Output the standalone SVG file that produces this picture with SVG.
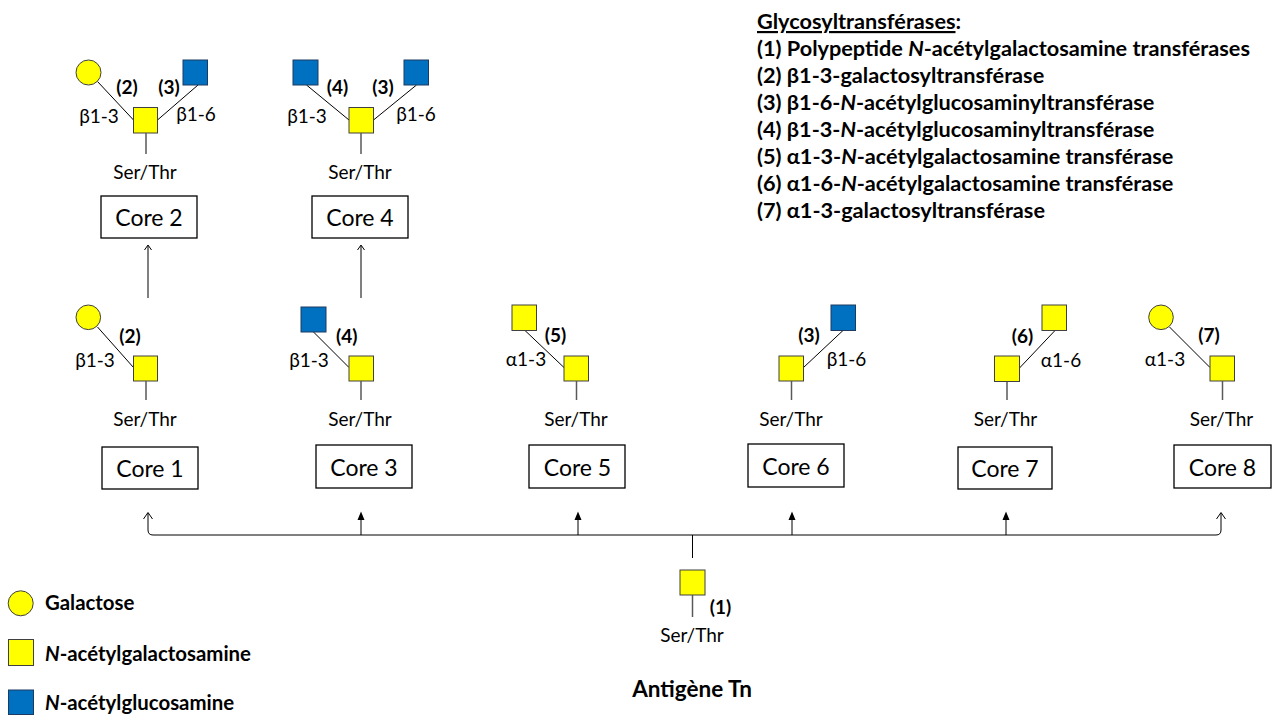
<svg xmlns="http://www.w3.org/2000/svg" width="1273" height="718" viewBox="0 0 1273 718">
<style>
text{font-family:Lato,"Liberation Sans",sans-serif;fill:#000}
.ser{font-size:19px;text-anchor:middle}
.lk{font-size:19px;text-anchor:middle}
.en{font-size:19px;font-weight:bold;text-anchor:middle}
.core{font-size:23px;text-anchor:middle}
.lst{font-size:21.7px;font-weight:bold}
.leg{font-size:20.4px;font-weight:bold}
.gal{fill:#FFFF00;stroke:#404040;stroke-width:1}
.glc{fill:#0070C0;stroke:#1F3A60;stroke-width:1}
.bx{fill:#fff;stroke:#000;stroke-width:1.3}
.bond{stroke:#000;stroke-width:1}
.stem{stroke:#595959;stroke-width:1.5}
.conn{fill:none;stroke:#000;stroke-width:1}
.head{fill:#000;stroke:none}
</style>

<!-- Core 2 -->
<g id="core2">
<line class="bond" x1="97.5" y1="81.5" x2="133.5" y2="120"/>
<line class="bond" x1="198" y1="85" x2="157.5" y2="120"/>
<circle class="gal" cx="88.5" cy="72.5" r="12.5"/>
<rect class="glc" x="183" y="60" width="24.5" height="25"/>
<rect class="gal" x="133.5" y="107.5" width="24" height="25.5"/>
<line class="stem" x1="146" y1="133" x2="146" y2="154"/>
<text class="en" x="127" y="94">(2)</text>
<text class="en" x="169" y="94">(3)</text>
<text class="lk" x="99" y="123">β1-3</text>
<text class="lk" x="196" y="121">β1-6</text>
<text class="ser" x="145" y="179">Ser/Thr</text>
<rect class="bx" x="101" y="196" width="96" height="42"/>
<text class="core" x="149" y="226">Core 2</text>
</g>

<!-- Core 4 -->
<g id="core4">
<line class="bond" x1="306.5" y1="85" x2="349" y2="120"/>
<line class="bond" x1="416.5" y1="85" x2="373.5" y2="120"/>
<rect class="glc" x="293" y="60" width="25" height="25"/>
<rect class="glc" x="404" y="60" width="24.5" height="25"/>
<rect class="gal" x="349" y="107.5" width="24.5" height="25.5"/>
<line class="stem" x1="361" y1="133" x2="361" y2="154"/>
<text class="en" x="337.5" y="94">(4)</text>
<text class="en" x="383" y="94">(3)</text>
<text class="lk" x="307" y="122.5">β1-3</text>
<text class="lk" x="416" y="121">β1-6</text>
<text class="ser" x="360" y="179">Ser/Thr</text>
<rect class="bx" x="312" y="196" width="96" height="42"/>
<text class="core" x="360" y="226">Core 4</text>
</g>

<!-- Core 1 -->
<g id="core1">
<line class="bond" x1="97.5" y1="327" x2="133.5" y2="367.5"/>
<circle class="gal" cx="88.3" cy="317.3" r="12.3"/>
<rect class="gal" x="133.5" y="356" width="24" height="25"/>
<line class="stem" x1="146" y1="381" x2="146" y2="400"/>
<text class="en" x="130" y="343">(2)</text>
<text class="lk" x="95" y="366.5">β1-3</text>
<text class="ser" x="145" y="426">Ser/Thr</text>
<rect class="bx" x="102" y="447" width="96" height="42"/>
<text class="core" x="150" y="477">Core 1</text>
</g>

<!-- Core 3 -->
<g id="core3">
<line class="bond" x1="313.5" y1="332" x2="349" y2="367.5"/>
<rect class="glc" x="301" y="307" width="25" height="25"/>
<rect class="gal" x="349" y="356" width="24.5" height="25"/>
<line class="stem" x1="361" y1="381" x2="361" y2="400"/>
<text class="en" x="346.7" y="343">(4)</text>
<text class="lk" x="309" y="366.5">β1-3</text>
<text class="ser" x="360" y="426">Ser/Thr</text>
<rect class="bx" x="316" y="445" width="96" height="43"/>
<text class="core" x="364" y="475.5">Core 3</text>
</g>

<!-- Core 5 -->
<g id="core5">
<line class="bond" x1="525" y1="330.5" x2="564" y2="367.5"/>
<rect class="gal" x="512" y="305" width="24.5" height="25.5"/>
<rect class="gal" x="564" y="356" width="24.5" height="25"/>
<line class="stem" x1="576.5" y1="381" x2="576.5" y2="400"/>
<text class="en" x="555.5" y="342">(5)</text>
<text class="lk" x="526" y="366">α1-3</text>
<text class="ser" x="576" y="426">Ser/Thr</text>
<rect class="bx" x="529" y="445" width="96" height="43"/>
<text class="core" x="577.5" y="475.5">Core 5</text>
</g>

<!-- Core 6 -->
<g id="core6">
<line class="bond" x1="843" y1="330.5" x2="803.5" y2="367.5"/>
<rect class="glc" x="831" y="305" width="24.5" height="25.5"/>
<rect class="gal" x="779" y="356" width="24.5" height="25"/>
<line class="stem" x1="791.5" y1="381" x2="791.5" y2="400"/>
<text class="en" x="809" y="342">(3)</text>
<text class="lk" x="846.5" y="365.5">β1-6</text>
<text class="ser" x="791" y="426">Ser/Thr</text>
<rect class="bx" x="748" y="444" width="96" height="43"/>
<text class="core" x="796" y="474.5">Core 6</text>
</g>

<!-- Core 7 -->
<g id="core7">
<line class="bond" x1="1055" y1="330.5" x2="1019.5" y2="368"/>
<rect class="gal" x="1042" y="305" width="24.5" height="25.5"/>
<rect class="gal" x="994.5" y="356" width="25" height="25.5"/>
<line class="stem" x1="1007" y1="382" x2="1007" y2="400"/>
<text class="en" x="1022.5" y="343">(6)</text>
<text class="lk" x="1061" y="367">α1-6</text>
<text class="ser" x="1005.5" y="426">Ser/Thr</text>
<rect class="bx" x="958" y="447" width="94" height="42"/>
<text class="core" x="1005" y="477">Core 7</text>
</g>

<!-- Core 8 -->
<g id="core8">
<line class="bond" x1="1169.5" y1="327" x2="1210" y2="367.5"/>
<circle class="gal" cx="1161" cy="317.3" r="12.3"/>
<rect class="gal" x="1210" y="356" width="24.5" height="25"/>
<line class="stem" x1="1222.5" y1="381" x2="1222.5" y2="400"/>
<text class="en" x="1209" y="342">(7)</text>
<text class="lk" x="1165" y="366">α1-3</text>
<text class="ser" x="1221.5" y="426">Ser/Thr</text>
<rect class="bx" x="1174" y="445" width="97" height="43"/>
<text class="core" x="1222.5" y="475.5">Core 8</text>
</g>

<!-- Antigen Tn -->
<g id="tn">
<rect class="gal" x="680" y="570" width="25" height="25"/>
<line class="stem" x1="692.5" y1="595" x2="692.5" y2="617"/>
<text class="en" x="720.5" y="614">(1)</text>
<text class="ser" x="692" y="642">Ser/Thr</text>
<text x="692" y="697" style="font-size:22.5px;font-weight:bold;text-anchor:middle">Antigène Tn</text>
</g>

<!-- Connectors -->
<g id="connectors">
<line class="conn" x1="148" y1="298" x2="148" y2="246"/>
<path class="conn" d="M144.5,250 L148,245 L151.5,250"/>
<line class="conn" x1="361" y1="298" x2="361" y2="246"/>
<path class="conn" d="M357.5,250 L361,245 L364.5,250"/>
<line class="conn" x1="692.5" y1="535" x2="692.5" y2="558"/>
<path class="conn" d="M148,513 L148,530 Q148,535 153,535 L1216,535 Q1221,535 1221,530 L1221,513"/>
<path class="conn" d="M143.5,519 L148,512.5 L152.5,519"/>
<path class="conn" d="M1216.5,519 L1221,512.5 L1225.5,519"/>
<line class="conn" x1="361" y1="535" x2="361" y2="519"/>
<path class="head" d="M357.5,520 L361,511.5 L364.5,520 Z"/>
<line class="conn" x1="578" y1="535" x2="578" y2="519"/>
<path class="head" d="M574.5,520 L578,511.5 L581.5,520 Z"/>
<line class="conn" x1="792" y1="535" x2="792" y2="519"/>
<path class="head" d="M788.5,520 L792,511.5 L795.5,520 Z"/>
<line class="conn" x1="1006" y1="535" x2="1006" y2="519"/>
<path class="head" d="M1002.5,520 L1006,511.5 L1009.5,520 Z"/>
</g>

<!-- Legend -->
<g id="legend">
<circle class="gal" cx="20.7" cy="603.3" r="12.5"/>
<text class="leg" x="45" y="610">Galactose</text>
<rect class="gal" x="8.5" y="639.5" width="25" height="26"/>
<text class="leg" x="45" y="661"><tspan font-style="italic">N</tspan>-acétylgalactosamine</text>
<rect class="glc" x="8.5" y="690" width="25" height="24.5"/>
<text class="leg" x="45" y="710"><tspan font-style="italic">N</tspan>-acétylglucosamine</text>
</g>

<!-- Enzyme list -->
<g id="enzymes">
<text class="lst" x="757" y="29"><tspan text-decoration="underline">Glycosyltransférases</tspan>:</text>
<text class="lst" x="757" y="56">(1) Polypeptide <tspan font-style="italic">N</tspan>-acétylgalactosamine transférases</text>
<text class="lst" x="757" y="83">(2) β1-3-galactosyltransférase</text>
<text class="lst" x="757" y="110">(3) β1-6-<tspan font-style="italic">N</tspan>-acétylglucosaminyltransférase</text>
<text class="lst" x="757" y="137">(4) β1-3-<tspan font-style="italic">N</tspan>-acétylglucosaminyltransférase</text>
<text class="lst" x="757" y="164">(5) α1-3-<tspan font-style="italic">N</tspan>-acétylgalactosamine transférase</text>
<text class="lst" x="757" y="191">(6) α1-6-<tspan font-style="italic">N</tspan>-acétylgalactosamine transférase</text>
<text class="lst" x="757" y="218">(7) α1-3-galactosyltransférase</text>
</g>
</svg>
